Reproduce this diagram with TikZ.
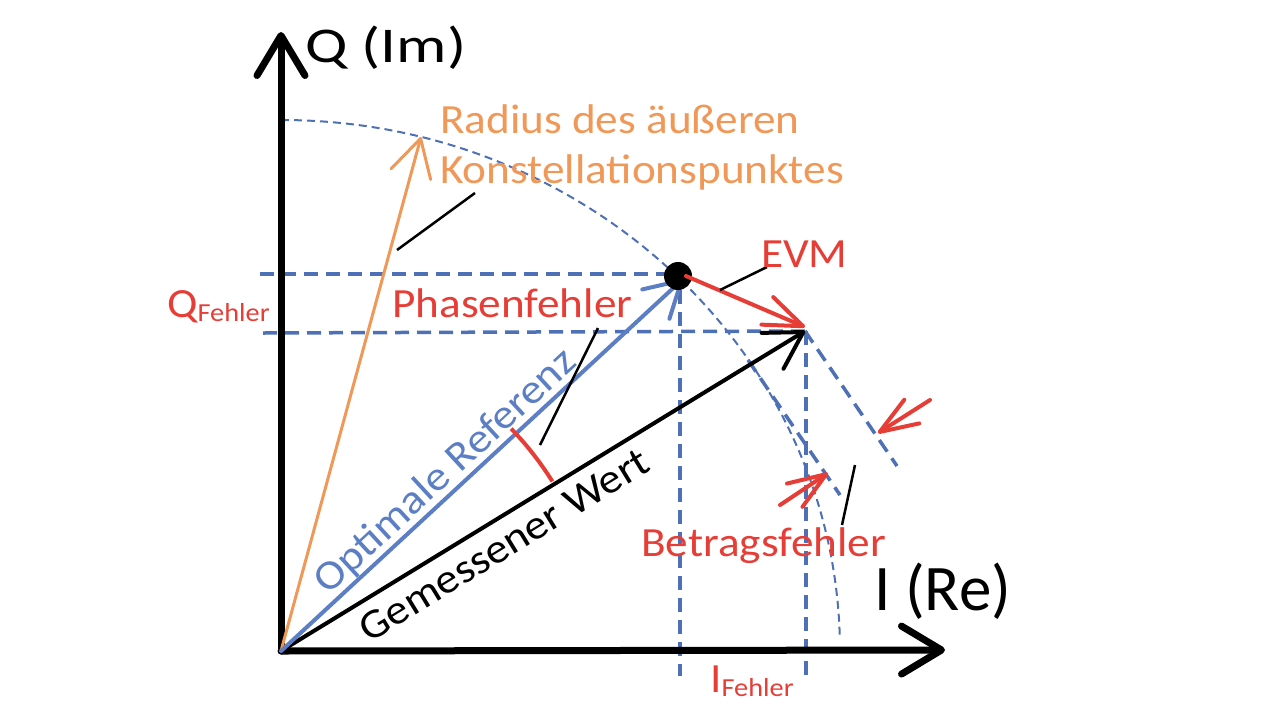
\documentclass[tikz,border=0pt]{standalone}
\usepackage{fontspec}
\setmainfont[FakeStretch=1.09]{Carlito}
\newfontfamily\axfam{Carlito}
\usetikzlibrary{arrows.meta}
\definecolor{myred}{RGB}{230,62,55}
\definecolor{myorange}{RGB}{240,152,88}
\definecolor{vecblue}{RGB}{92,126,196}
\definecolor{dashblue}{RGB}{78,112,182}
\newcommand\labfont{\fontsize{41.5}{50}\selectfont}
\newcommand\subfnt{\fontsize{26}{30}\selectfont}
\begin{document}
\begin{tikzpicture}[x=1pt,y=-1pt,
  axisline/.style={line width=7pt,line cap=round,-{Straight Barb[length=40pt,width=48pt,round]}},
  vec/.style={line width=4pt,line cap=round},
  thickdash/.style={draw=dashblue,line width=3.5pt,dash pattern=on 14pt off 8pt},
  thindash/.style={draw=dashblue,line width=2pt,dash pattern=on 8pt off 5pt},
  pointer/.style={line width=2.5pt,black},
  lab/.style={inner sep=0pt,anchor=base west,font=\labfont},
  redarr/.style={vec,myred,-{Straight Barb[length=38pt,width=28pt,round]}}]
\useasboundingbox (0,0) rectangle (1280,721);
% coordinates
\coordinate (O) at (281,651);
\coordinate (Ytip) at (281,32);
\coordinate (Xtip) at (945,650);
\coordinate (Rtip) at (683,279);
\coordinate (Rc) at (678,276);
\coordinate (M) at (805,331);
\coordinate (Ot) at (421,137);
\coordinate (Es) at (686,276);
\coordinate (Et) at (805,327);
% guides
\draw[thindash] (281,120) arc[start angle=-90,end angle=-1.3,x radius=559,y radius=531];
\draw[thickdash] (260,274) -- (665,274);
\draw[thickdash] (263,333) -- (M);
\draw[thickdash] (680,290) -- (680,676);
\draw[thickdash] (806,331) -- (806,676);
\draw[thickdash] (748,360) -- (840,495);
\draw[thickdash] (M) -- (897,466);
% axes
\draw[axisline] (O) -- (Ytip);
\draw[axisline] (O) -- (Xtip);
% vectors
\draw[vec,myorange,line width=3pt,-{Straight Barb[length=37pt,width=41pt,round]}] (O) -- (Ot);
\draw[vec,black,-{Straight Barb[length=36pt,width=42pt,round]}] (O) -- (M);
\draw[vec,vecblue,-{Straight Barb[length=35pt,width=40pt,round]}] (O) -- (Rtip);
\node[circle,fill=black,minimum size=28pt,inner sep=0pt] (dot) at (Rc) {};
\draw[vec,myred,-{Straight Barb[length=39pt,width=30pt,round]}] (Es) -- (Et);
% angle
\draw[myred,line width=4pt] (O) ++(-32:320) arc[start angle=-32,end angle=-44,radius=320];
% magnitude arrows
\coordinate (a1s) at (930,400); \coordinate (a1t) at (878,433);
\coordinate (a2s) at (780,505); \coordinate (a2t) at (828,473);
\draw[redarr] (a1s) -- (a1t);
\draw[redarr] (a2s) -- (a2t);
% pointers
\draw[pointer] (397,250) -- (475,193);
\draw[pointer] (720,290) -- (767,267);
\draw[pointer] (540,445) -- (598,328);
\draw[pointer] (855,465) -- (842,525);
% labels
\node[inner sep=0pt,anchor=base west,xscale=1.26] (im) at (305,62) {\axfam\fontsize{50}{60}\selectfont Q (Im)};
\node[inner sep=0pt,anchor=base west] (re) at (874,610) {\axfam\fontsize{65}{75}\selectfont I (Re)};
\node[lab,text=myorange] (rad1) at (440,133) {Radius des äußeren};
\node[lab,text=myorange] (rad2) at (440,183) {Konstellationspunktes};
\node[lab,text=myred] (evm) at (761,267) {EVM};
\node[lab,text=myred] (phase) at (392,317) {Phasenfehler};
\node[lab,text=myred] (qf) at (167,317) {Q\raisebox{-4pt}{\subfnt Fehler}};
\node[lab,text=myred] (betrag) at (641,556) {Betragsfehler};
\node[lab,text=myred] (ifehl) at (710,692) {I\raisebox{-4pt}{\subfnt Fehler}};
\node[inner sep=0pt,font=\labfont,text=vecblue,rotate=42.7] (opt) at (446,472) {Optimale Referenz};
\node[inner sep=0pt,font=\labfont,text=black,rotate=31.5] (gem) at (504,545) {Gemessener Wert};
\end{tikzpicture}
\end{document}
